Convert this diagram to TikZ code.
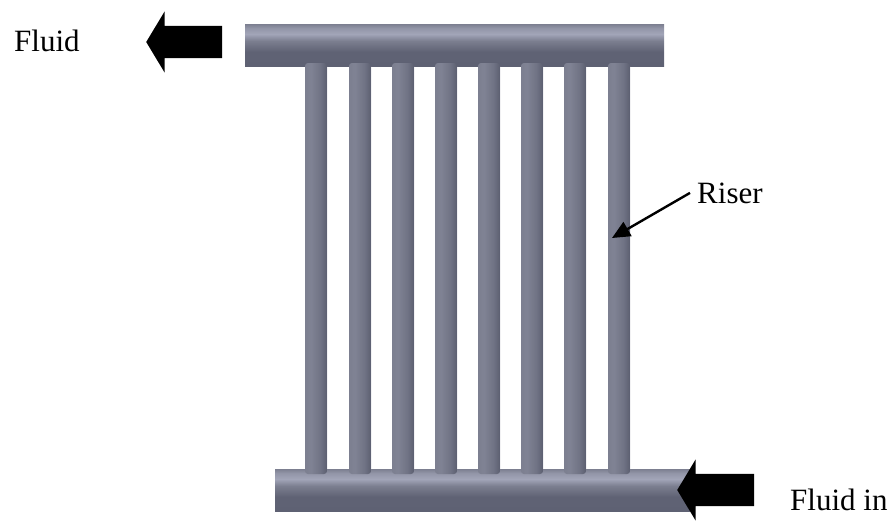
\documentclass[tikz,border=0pt]{standalone}
\usepackage{fontspec}
\setmainfont{Liberation Serif}
\usetikzlibrary{arrows.meta, positioning, shapes.arrows}
\definecolor{pipedark}{HTML}{5E6173}
\definecolor{pipemid}{HTML}{7C7F90}
\definecolor{pipelight}{HTML}{A2A5B8}
\pgfdeclareverticalshading{headershade}{100bp}{
  color(0bp)=(pipedark); color(25bp)=(pipedark); color(42bp)=(pipedark!95!pipemid);
  color(55bp)=(pipemid); color(63bp)=(pipelight); color(70bp)=(pipelight!60!pipemid);
  color(75bp)=(pipemid); color(100bp)=(pipemid)}
\pgfdeclarehorizontalshading{risershade}{100bp}{
  color(0bp)=(pipemid); color(25bp)=(pipemid); color(38bp)=(pipemid!90!pipelight);
  color(60bp)=(pipemid!60!pipedark); color(73bp)=(pipedark); color(75bp)=(pipedark!70!white);
  color(100bp)=(pipedark!70!white)}

\begin{document}
\begin{tikzpicture}[x=1pt, y=-1pt,
  header/.style={rectangle, shading=headershade, inner sep=0pt,
                 minimum width=#1, minimum height=42pt},
  riser/.style={rectangle, shading=risershade, inner sep=0pt, rounded corners=3pt,
                minimum width=22pt, minimum height=411pt},
  flowarrow/.style={single arrow, fill=black, inner xsep=0pt, inner ysep=16pt,
                    single arrow head extend=14.5pt, single arrow tip angle=118,
                    shape border rotate=180, anchor=tip, minimum height=#1},
  lbl/.style={font=\fontsize{31}{37}\selectfont, inner sep=0pt, anchor=base west}
]
  \useasboundingbox (0,0) rectangle (895,520);

  % headers
  \node[header=419pt] (top) at (454.5, 45) {};
  \node[header=415pt] (bottom) at (482.5, 490) {};

  % risers
  \foreach \n/\x in {1/316, 2/360, 3/403, 4/446, 5/489, 6/532, 7/575, 8/619}
    \node[riser] (riser\n) at (\x, 268.5) {};

  \node[flowarrow=76pt] (out) at (146, 42) {};
  \node[flowarrow=77pt] (in) at (677, 490) {};

  \node[lbl] (fluidout) at (14, 51) {Fluid};
  \node[lbl] (fluidin) at (790, 510) {Fluid in};
  \node[lbl] (riserlbl) at (697, 203) {Riser};

  \coordinate (risertip) at (612, 238);
  \draw[-{Triangle[length=18pt, width=16pt]}, line width=2.4pt]
    (riserlbl.west) ++(-7, 0) -- (risertip);
\end{tikzpicture}
\end{document}
